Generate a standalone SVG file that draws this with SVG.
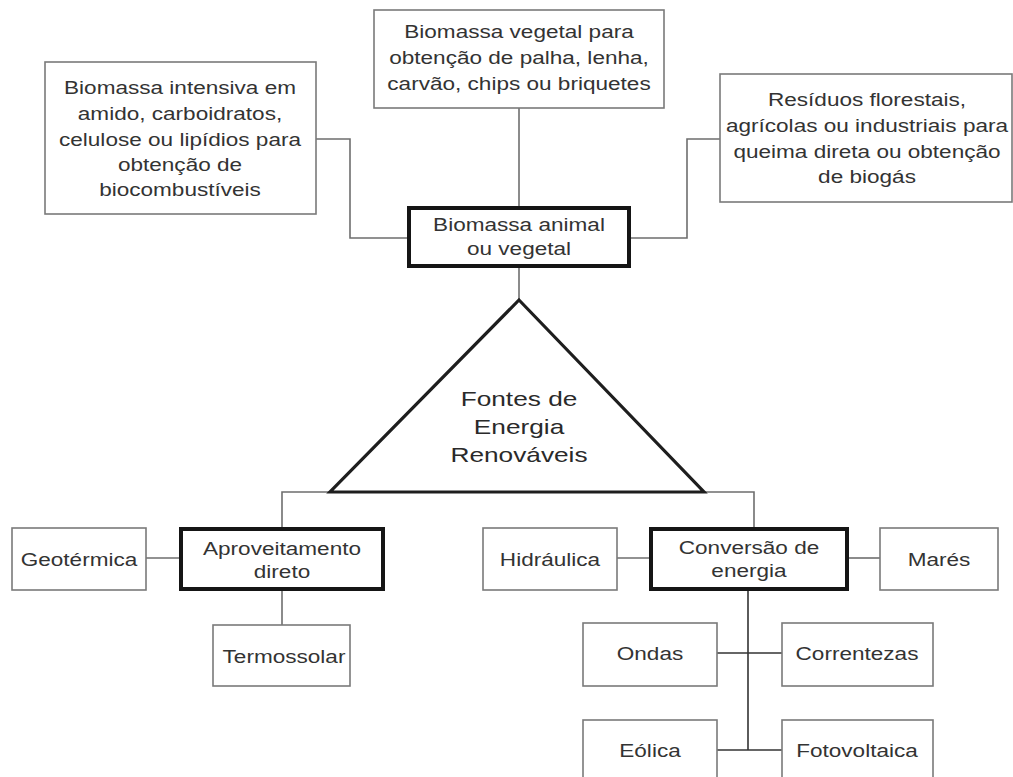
<svg xmlns="http://www.w3.org/2000/svg" width="1013" height="777" viewBox="0 0 1013 777">
<style>
.bg{fill:#fff}
.box{fill:#fff;stroke:#7a7a7a;stroke-width:1.6}
.main{fill:#fff;stroke:#151515;stroke-width:4}
.tri{fill:#fff;stroke:#1e1e1e;stroke-width:3.2;stroke-linejoin:miter}
.conn{fill:none;stroke:#6e6e6e;stroke-width:1.6}
.dark{fill:none;stroke:#333;stroke-width:1.6}
text{font-family:"Liberation Sans",Arial,sans-serif;font-size:18.5px;fill:#333;text-anchor:middle}
.big{font-size:21px;fill:#2a2a2a}
</style>
<rect class="bg" width="1013" height="777"/>
<g id="connectors">
<polyline class="conn" points="519,108 519,207"/>
<polyline class="conn" points="519,267 519,300"/>
<polyline class="conn" points="316,139 350,139 350,238 408,238"/>
<polyline class="conn" points="630,238 687,238 687,139 720,139"/>
<polyline class="conn" points="330,492 282,492 282,528"/>
<polyline class="conn" points="704,492 754,492 754,528"/>
<line class="conn" x1="146" y1="558" x2="180" y2="558"/>
<line class="conn" x1="282" y1="590" x2="282" y2="625"/>
<line class="conn" x1="617" y1="558" x2="650" y2="558"/>
<line class="conn" x1="848" y1="558" x2="880" y2="558"/>
<line class="dark" x1="748" y1="590" x2="748" y2="750"/>
<line class="dark" x1="717" y1="653" x2="782" y2="653"/>
<line class="dark" x1="717" y1="750" x2="782" y2="750"/>
</g>
<g id="n-top">
<rect class="box" x="374" y="10" width="290" height="98"/>
<text transform="translate(519,0) scale(1.22,1)" y="38">Biomassa vegetal para</text>
<text transform="translate(519,0) scale(1.22,1)" y="64">obtenção de palha, lenha,</text>
<text transform="translate(519,0) scale(1.22,1)" y="90">carvão, chips ou briquetes</text>
</g>
<g id="n-left">
<rect class="box" x="45" y="62" width="271" height="152"/>
<text transform="translate(180,0) scale(1.22,1)" y="94">Biomassa intensiva em</text>
<text transform="translate(180,0) scale(1.22,1)" y="120">amido, carboidratos,</text>
<text transform="translate(180,0) scale(1.22,1)" y="146">celulose ou  lipídios para</text>
<text transform="translate(180,0) scale(1.22,1)" y="171">obtenção de</text>
<text transform="translate(180,0) scale(1.22,1)" y="196">biocombustíveis</text>
</g>
<g id="n-right">
<rect class="box" x="720" y="74" width="292" height="128"/>
<text transform="translate(867,0) scale(1.22,1)" y="106">Resíduos florestais,</text>
<text transform="translate(867,0) scale(1.22,1)" y="132">agrícolas ou industriais para</text>
<text transform="translate(867,0) scale(1.22,1)" y="158">queima direta ou obtenção</text>
<text transform="translate(867,0) scale(1.22,1)" y="183">de biogás</text>
</g>
<g id="n-biomassa">
<rect class="main" x="409" y="208" width="220" height="58"/>
<text transform="translate(519,0) scale(1.22,1)" y="231">Biomassa animal</text>
<text transform="translate(519,0) scale(1.22,1)" y="255">ou vegetal</text>
</g>
<g id="n-fontes">
<polygon class="tri" points="519,300 704,492 330,492"/>
<text class="big" transform="translate(519,0) scale(1.25,1)" y="406">Fontes de</text>
<text class="big" transform="translate(519,0) scale(1.25,1)" y="434">Energia</text>
<text class="big" transform="translate(519,0) scale(1.25,1)" y="462">Renováveis</text>
</g>
<g id="n-geotermica">
<rect class="box" x="12" y="528" width="134" height="62"/>
<text transform="translate(79,0) scale(1.22,1)" y="566">Geotérmica</text>
</g>
<g id="n-aproveitamento">
<rect class="main" x="181" y="529" width="202" height="60"/>
<text transform="translate(282,0) scale(1.22,1)" y="555">Aproveitamento</text>
<text transform="translate(282,0) scale(1.22,1)" y="578">direto</text>
</g>
<g id="n-termossolar">
<rect class="box" x="213" y="625" width="137" height="61"/>
<text transform="translate(284,0) scale(1.22,1)" y="663">Termossolar</text>
</g>
<g id="n-hidraulica">
<rect class="box" x="483" y="528" width="134" height="62"/>
<text transform="translate(550,0) scale(1.22,1)" y="566">Hidráulica</text>
</g>
<g id="n-conversao">
<rect class="main" x="651" y="529" width="196" height="60"/>
<text transform="translate(749,0) scale(1.22,1)" y="554">Conversão de</text>
<text transform="translate(749,0) scale(1.22,1)" y="577">energia</text>
</g>
<g id="n-mares">
<rect class="box" x="880" y="528" width="118" height="62"/>
<text transform="translate(939,0) scale(1.22,1)" y="566">Marés</text>
</g>
<g id="n-ondas">
<rect class="box" x="583" y="623" width="134" height="63"/>
<text transform="translate(650,0) scale(1.22,1)" y="660">Ondas</text>
</g>
<g id="n-correntezas">
<rect class="box" x="782" y="623" width="151" height="63"/>
<text transform="translate(857,0) scale(1.22,1)" y="660">Correntezas</text>
</g>
<g id="n-eolica">
<rect class="box" x="583" y="720" width="134" height="70"/>
<text transform="translate(650,0) scale(1.22,1)" y="757">Eólica</text>
</g>
<g id="n-fotovoltaica">
<rect class="box" x="782" y="720" width="151" height="70"/>
<text transform="translate(857,0) scale(1.22,1)" y="757">Fotovoltaica</text>
</g>
</svg>
